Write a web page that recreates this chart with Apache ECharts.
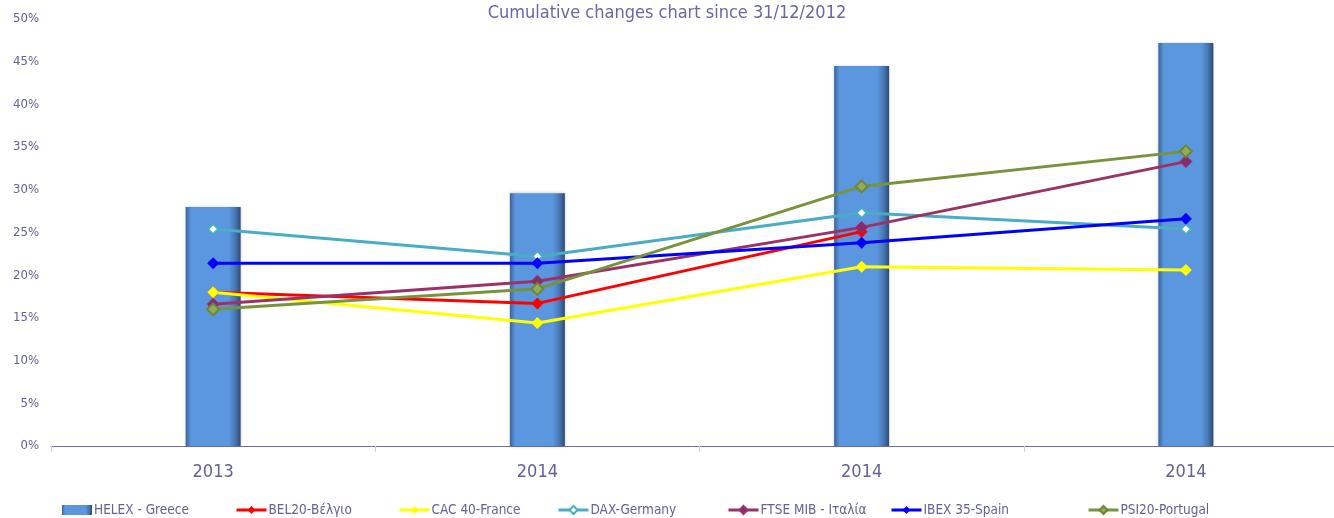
<!DOCTYPE html>
<html>
<head>
<meta charset="utf-8">
<script src="https://cdn.jsdelivr.net/npm/echarts@6/dist/echarts.min.js"></script>
<style>
  html, body { margin: 0; padding: 0; background: #fff; }
  #chart { width: 1334px; height: 518px; }
</style>
</head>
<body>
<div id="chart"></div>
<script>
const categories = ['2013', '2014', '2014', '2014']
const yTicks = [0, 5, 10, 15, 20, 25, 30, 35, 40, 45, 50]

const helex = [28.0, 29.6, 44.5, 47.2]
const bel20 = [18.0, 16.7, 25.1, null]
const cac40 = [18.0, 14.4, 21.0, 20.6]
const dax = [25.4, 22.2, 27.3, 25.4]
const ftse = [16.6, 19.3, 25.6, 33.3]
const ibex = [21.4, 21.4, 23.8, 26.6]
const psi20 = [16.0, 18.4, 30.4, 34.5]

const names = ['HELEX - Greece', 'BEL20-Βέλγιο', 'CAC 40-France', 'DAX-Germany',
  'FTSE MIB - Ιταλία', 'IBEX 35-Spain', 'PSI20-Portugal']

const font = "'DejaVu Sans Condensed', 'Liberation Sans', sans-serif"
const textColor = '#62629a'

// legend item left positions
const legendLeft = [62, 235, 398, 557, 727, 890, 1087]

const barColor = new echarts.graphic.LinearGradient(0, 0, 1, 0, [
  { offset: 0, color: '#3a649c' },
  { offset: 0.1, color: '#5b97de' },
  { offset: 0.78, color: '#5b97de' },
  { offset: 0.9, color: '#4878b4' },
  { offset: 1, color: '#2d4b74' },
])

function lineSeries(name, data, color, extra) {
  return Object.assign({
    name: name,
    type: 'line',
    data: data,
    symbol: 'diamond',
    symbolSize: 12,
    lineStyle: { color: color, width: 3 },
    itemStyle: { color: color },
    z: 3,
  }, extra || {})
}

const option = {
  animation: false,
  textStyle: { fontFamily: font },
  title: {
    text: 'Cumulative changes chart since 31/12/2012',
    left: 'center',
    top: 4,
    padding: 0,
    textStyle: { fontFamily: font, fontSize: 18, fontWeight: 'normal', color: '#6868a2' },
  },
  grid: { left: 51, width: 1297, top: 19, bottom: 72, containLabel: false, outerBoundsMode: 'none' },
  legend: names.map((n, i) => ({
    data: [n],
    left: legendLeft[i],
    top: 503,
    padding: 0,
    itemWidth: 30,
    itemHeight: 10,
    itemGap: 2,
    lineStyle: { width: 3 },
    textStyle: { fontFamily: font, fontSize: 13.5, color: textColor, padding: [0, 0, 0, -3] },
    icon: i === 0 ? 'rect' : undefined,
  })),
  xAxis: {
    type: 'category',
    data: categories,
    axisLine: { lineStyle: { color: '#6f6fa5', width: 1 } },
    axisTick: { show: true, length: 6, lineStyle: { color: '#cfcfdc' } },
    axisLabel: { fontFamily: font, fontSize: 18, color: textColor, margin: 17 },
  },
  yAxis: {
    type: 'value',
    min: yTicks[0],
    max: yTicks[yTicks.length - 1],
    interval: yTicks[1] - yTicks[0],
    splitLine: { show: false },
    axisLine: { show: false },
    axisTick: { show: false },
    axisLabel: { fontFamily: font, fontSize: 13, color: textColor, formatter: '{value}%', margin: 12 },
  },
  series: [
    {
      name: names[0],
      type: 'bar',
      data: helex,
      barWidth: 55,
      itemStyle: {
        color: barColor,
        shadowColor: 'rgba(40,60,100,0.35)',
        shadowBlur: 3,
      },
      z: 2,
    },
    lineSeries(names[1], bel20, '#ff0000'),
    lineSeries(names[2], cac40, '#ffff00'),
    lineSeries(names[3], dax, '#4bacc6', {
      symbol: 'emptyDiamond',
      symbolSize: 10,
      itemStyle: { color: '#4bacc6', borderWidth: 2 },
    }),
    lineSeries(names[4], ftse, '#993366', {
      itemStyle: { color: '#8a2a68', borderColor: '#993366', borderWidth: 1 },
    }),
    lineSeries(names[5], ibex, '#0000ff'),
    lineSeries(names[6], psi20, '#77933c', {
      itemStyle: { color: '#94ab5c', borderColor: '#6b8734', borderWidth: 2 },
    }),
  ],
}

const myChart = echarts.init(document.getElementById('chart'))
myChart.setOption(option)
</script>
</body>
</html>
